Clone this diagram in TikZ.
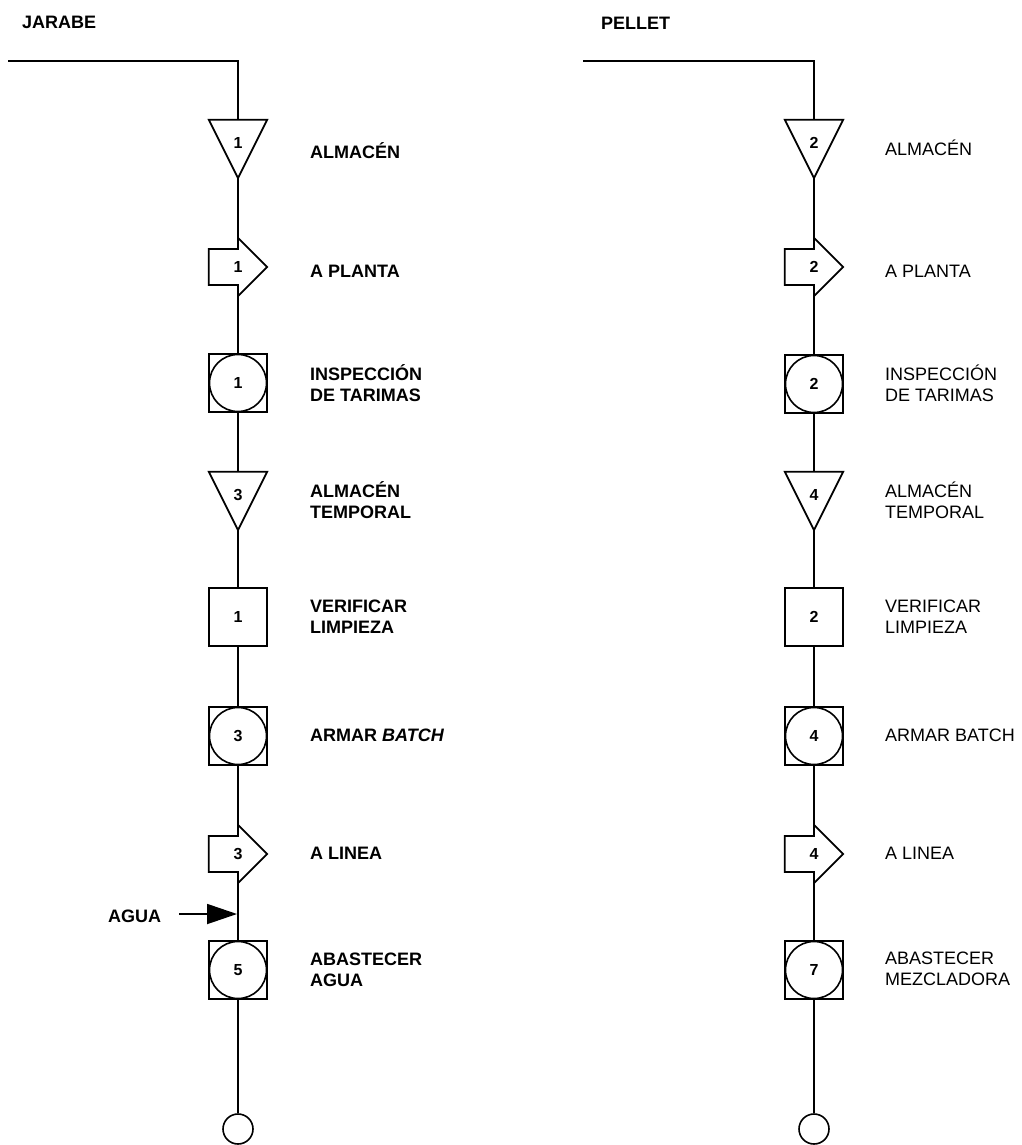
\documentclass[tikz,border=0pt]{standalone}
\usepackage{fontspec}
\setmainfont{Liberation Sans}
\usetikzlibrary{arrows.meta,calc}
\newcommand\lblfont{\fontsize{18}{21}\selectfont}
\newcommand\numfnt{\fontsize{16}{19}\selectfont\bfseries}
\newcommand\drawtri[1]{\draw[shp] (#1.north west) -- (#1.north east) -- (#1.south) -- cycle;}
\newcommand\drawtrans[1]{\draw[shp] ($(#1.west)+(0,-18)$) -- ($(#1.center)+(0,-18)$) -- (#1.north) -- (#1.east) -- (#1.south) -- ($(#1.center)+(0,18)$) -- ($(#1.west)+(0,18)$) -- cycle;}
\newcommand\drawinsp[1]{\draw[circ] (#1.center) circle[radius=28.5pt];}
\begin{document}
\begin{tikzpicture}[x=1pt,y=-1pt,
  shp/.style={line width=1.8pt, line join=miter},
  circ/.style={line width=1.6pt},
  flow/.style={line width=2.5pt},
  thinflow/.style={line width=1.8pt},
  box/.style={rectangle, minimum width=58pt, minimum height=58pt, inner sep=0pt, font=\numfnt},
  sqbox/.style={box, draw, line width=2.2pt},
  endc/.style={circle, draw, line width=1.6pt, minimum size=30pt, inner sep=0pt},
  lblL/.style={anchor=west, align=left, inner sep=0pt, font=\lblfont\bfseries},
  lblR/.style={anchor=west, align=left, inner sep=0pt, font=\lblfont},
  head/.style={anchor=west, inner sep=0pt, font=\lblfont\bfseries},
  inarrow/.style={line width=1.8pt, -{Triangle[length=30pt,width=20pt]}},
]
\useasboundingbox (0,0) rectangle (1021,1145);

% headers
\node[head] (hJ) at (22,22) {JARABE};
\node[head] (hP) at (601,23) {PELLET};

% ---------- left column ----------
\node[box] (L1) at (238,149) {\raisebox{12pt}{1}};
\node[box] (L2) at (238,267) {1};
\node[sqbox] (L3) at (238,383) {1};
\node[box] (L4) at (238,501) {\raisebox{12pt}{3}};
\node[sqbox] (L5) at (238,617) {1};
\node[sqbox] (L6) at (238,736) {3};
\node[box] (L7) at (238,854) {3};
\node[sqbox] (L8) at (238,970) {5};
\node[endc] (Lend) at (238,1129) {};
\drawtri{L1}
\drawtrans{L2}
\drawinsp{L3}
\drawtri{L4}
\drawinsp{L6}
\drawtrans{L7}
\drawinsp{L8}

\node[lblL] (tL1) at (310,151) {ALMACÉN};
\node[lblL] (tL2) at (310,271) {A PLANTA};
\node[lblL] (tL3) at (310,383) {INSPECCIÓN\\DE TARIMAS};
\node[lblL] (tL4) at (310,500) {ALMACÉN\\TEMPORAL};
\node[lblL] (tL5) at (310,617) {VERIFICAR\\LIMPIEZA};
\node[lblL] (tL6) at (310,735) {ARMAR \textit{BATCH}};
\node[lblL] (tL7) at (310,853) {A LINEA};
\node[lblL] (tL8) at (310,970) {ABASTECER\\AGUA};

\coordinate (Ls) at (8,61);
\coordinate (Lc) at (238,61);
\draw[flow] (Ls) -- (Lc) -- (L1.north);
\draw[flow] (L1.south) -- (L2.north);
\draw[flow] (L2.south) -- (L3.north);
\draw[flow] (L3.south) -- (L4.north);
\draw[flow] (L4.south) -- (L5.north);
\draw[flow] (L5.south) -- (L6.north);
\draw[flow] (L6.south) -- (L7.north);
\draw[flow] (L7.south) -- (L8.north);
\coordinate (Lmid) at (238,1058);
\draw[flow] (L8.south) -- (Lmid);
\draw[thinflow] (Lmid) -- (Lend.north);

% water input
\node[head] (agua) at (108,916) {AGUA};
\coordinate (aguaA) at (179,914);
\coordinate (aguaB) at (237,914);
\draw[inarrow] (aguaA) -- (aguaB);

% ---------- right column ----------
\node[box] (R1) at (814,149) {\raisebox{12pt}{2}};
\node[box] (R2) at (814,267) {2};
\node[sqbox] (R3) at (814,384) {2};
\node[box] (R4) at (814,501) {\raisebox{12pt}{4}};
\node[sqbox] (R5) at (814,617) {2};
\node[sqbox] (R6) at (814,736) {4};
\node[box] (R7) at (814,854) {4};
\node[sqbox] (R8) at (814,970) {7};
\node[endc] (Rend) at (814,1129) {};
\drawtri{R1}
\drawtrans{R2}
\drawinsp{R3}
\drawtri{R4}
\drawinsp{R6}
\drawtrans{R7}
\drawinsp{R8}

\node[lblR] (tR1) at (885,148) {ALMACÉN};
\node[lblR] (tR2) at (885,271) {A PLANTA};
\node[lblR] (tR3) at (885,383) {INSPECCIÓN\\DE TARIMAS};
\node[lblR] (tR4) at (885,500) {ALMACÉN\\TEMPORAL};
\node[lblR] (tR5) at (885,617) {VERIFICAR\\LIMPIEZA};
\node[lblR] (tR6) at (885,735) {ARMAR BATCH};
\node[lblR] (tR7) at (885,853) {A LINEA};
\node[lblR] (tR8) at (885,969) {ABASTECER\\MEZCLADORA};

\coordinate (Rs) at (583,61);
\coordinate (Rc) at (814,61);
\draw[flow] (Rs) -- (Rc) -- (R1.north);
\draw[flow] (R1.south) -- (R2.north);
\draw[flow] (R2.south) -- (R3.north);
\draw[flow] (R3.south) -- (R4.north);
\draw[flow] (R4.south) -- (R5.north);
\draw[flow] (R5.south) -- (R6.north);
\draw[flow] (R6.south) -- (R7.north);
\draw[flow] (R7.south) -- (R8.north);
\coordinate (Rmid) at (814,1058);
\draw[flow] (R8.south) -- (Rmid);
\draw[thinflow] (Rmid) -- (Rend.north);
\end{tikzpicture}
\end{document}
